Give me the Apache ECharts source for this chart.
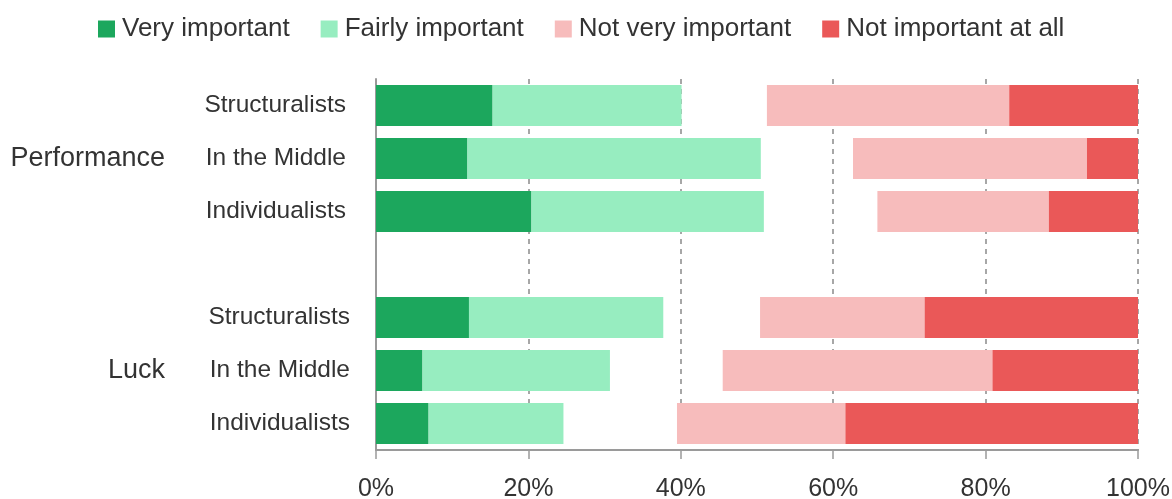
<!DOCTYPE html>
<html>
<head>
<meta charset="utf-8">
<script src="https://cdn.jsdelivr.net/npm/echarts@6/dist/echarts.min.js"></script>
<style>
  html, body { margin: 0; padding: 0; background: #ffffff; }
  #chart { width: 1172px; height: 499px; }
</style>
</head>
<body>
<div id="chart"></div>
<script>
// ---- data (rows top to bottom; the 4th row is an empty spacer) ----
const rowIds = ['perf-struct', 'perf-mid', 'perf-indiv', 'spacer', 'luck-struct', 'luck-mid', 'luck-indiv'];
const subgroupLabels = ['Structuralists', 'In the Middle', 'Individualists', '', 'Structuralists', 'In the Middle', 'Individualists'];
const groupLabels = ['', 'Performance', '', '', '', 'Luck', ''];
const seriesNames = ['Very important', 'Fairly important', 'Not very important', 'Not important at all'];

const veryImportant     = [15.3, 12.0, 20.4, null, 12.2, 6.1, 6.9];
const fairlyImportant   = [24.8, 38.5, 30.5, null, 25.5, 24.6, 17.7];
const neitherShare      = [11.2, 12.1, 14.9, null, 12.7, 14.8, 14.9]; // unlabelled gap
const notVeryImportant  = [31.8, 30.7, 22.5, null, 21.6, 35.4, 22.1];
const notImportantAtAll = [16.9, 6.7, 11.7, null, 28.0, 19.1, 38.4];

const xTicks = [0, 20, 40, 60, 80, 100];

// ---- styling ----
const FONT = '"Liberation Sans", Arial, sans-serif';
const TEXT = '#333333';
const colors = ['#1ca75d', '#97edc0', '#f7bcbc', '#ea5858'];

const chart = echarts.init(document.getElementById('chart'), null, { renderer: 'canvas' });

function bar(name, data, color) {
  return {
    name: name,
    type: 'bar',
    stack: 'total',
    data: data,
    barWidth: 41,
    itemStyle: { color: color },
    emphasis: { disabled: true },
    silent: true
  };
}

const option = {
  animation: false,
  textStyle: { fontFamily: FONT },
  legend: {
    data: seriesNames,
    left: 98,
    top: 16,
    padding: 0,
    icon: 'rect',
    itemWidth: 17,
    itemHeight: 17,
    itemGap: 31,
    selectedMode: false,
    textStyle: { fontSize: 26, color: TEXT, fontFamily: FONT, padding: [0, 0, 0, 2] }
  },
  grid: { left: 376, right: 34, top: 79, bottom: 49, containLabel: false, outerBoundsMode: 'none' },
  xAxis: {
    type: 'value',
    min: xTicks[0],
    max: xTicks[xTicks.length - 1],
    interval: xTicks[1] - xTicks[0],
    axisLine: { show: true, lineStyle: { color: '#9a9a9a', width: 2 } },
    axisTick: { show: true, length: 9, lineStyle: { color: '#9a9a9a', width: 1.5 } },
    axisLabel: {
      margin: 27,
      fontSize: 25,
      color: TEXT,
      fontFamily: FONT,
      formatter: v => v + '%'
    },
    splitLine: {
      show: true,
      lineStyle: { color: '#8a8a8a', type: [5, 5], width: 1.5 }
    }
  },
  yAxis: [
    {
      type: 'category',
      data: rowIds,
      inverse: true,
      axisLine: { show: true, lineStyle: { color: '#9a9a9a', width: 2 } },
      axisTick: { show: false },
      splitLine: { show: false },
      axisLabel: {
        margin: 26,
        fontSize: 24.5,
        color: TEXT,
        fontFamily: FONT,
        interval: 0,
        formatter: (v, i) => {
          const idx = rowIds.indexOf(v);
          const t = subgroupLabels[idx];
          if (!t) return '';
          return idx < 3 ? '{p|' + t + '}' : '{l|' + t + '}';
        },
        rich: {
          p: { fontSize: 24.5, color: TEXT, fontFamily: FONT, padding: [0, 4, 0, 0] },
          l: { fontSize: 24.5, color: TEXT, fontFamily: FONT }
        }
      }
    },
    {
      type: 'category',
      data: rowIds,
      inverse: true,
      position: 'left',
      offset: 0,
      axisLine: { show: false },
      axisTick: { show: false },
      splitLine: { show: false },
      axisLabel: {
        margin: 211,
        fontSize: 27,
        color: TEXT,
        fontFamily: FONT,
        interval: 0,
        formatter: v => groupLabels[rowIds.indexOf(v)] || ''
      }
    }
  ],
  series: [
    bar(seriesNames[0], veryImportant, colors[0]),
    bar(seriesNames[1], fairlyImportant, colors[1]),
    {
      name: 'Neither',
      type: 'bar',
      stack: 'total',
      data: neitherShare,
      barWidth: 41,
      itemStyle: { color: 'rgba(0,0,0,0)' },
      emphasis: { disabled: true },
      silent: true
    },
    bar(seriesNames[2], notVeryImportant, colors[2]),
    bar(seriesNames[3], notImportantAtAll, colors[3])
  ]
};

chart.setOption(option);
</script>
</body>
</html>
